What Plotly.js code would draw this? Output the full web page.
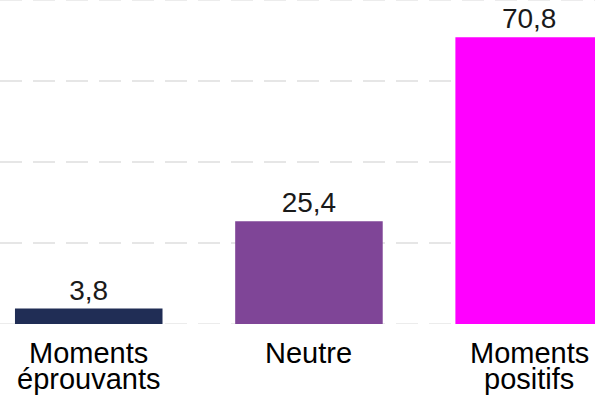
<!DOCTYPE html>
<html>
<head>
<meta charset="utf-8">
<script src="https://cdn.plot.ly/plotly-3.0.1.min.js"></script>
<style>html,body{margin:0;padding:0;background:#fff;}#chart{width:595px;height:403px;}</style>
</head>
<body>
<div id="chart"></div>
<script>
const categories = ["Moments éprouvants", "Neutre", "Moments positifs"];
const labelLine1 = ["Moments", "Neutre", "Moments"];
const labelLine2 = ["éprouvants", "", "positifs"];
const values = [3.8, 25.4, 70.8];
const valueText = ["3,8", "25,4", "70,8"];
const colors = ["#202d55", "#7f4597", "#ff00ff"];
const edgeGridValues = [0, 80];

const FONT = "Liberation Sans, Arial, sans-serif";

const annotations = [];
categories.forEach((c, i) => {
  annotations.push({x: c, y: 0, xref: "x", yref: "y", text: labelLine1[i], showarrow: false,
    yanchor: "top", yshift: -11, font: {family: FONT, size: 29, color: "#000"}});
  if (labelLine2[i]) {
    annotations.push({x: c, y: 0, xref: "x", yref: "y", text: labelLine2[i], showarrow: false,
      yanchor: "top", yshift: -37, font: {family: FONT, size: 29, color: "#000"}});
  }
});

const shapes = edgeGridValues.map(v => ({
  type: "line", xref: "paper", yref: "y", x0: 0, x1: 1, y0: v, y1: v, layer: "below",
  line: {color: "#e6e6e6", width: 1.5, dash: "22px,11px"}
}));

const trace = {
  type: "bar",
  x: categories,
  y: values,
  text: valueText,
  textposition: "outside",
  textfont: {family: FONT, size: 28, color: "#1a1a1a"},
  cliponaxis: false,
  marker: {color: colors, line: {width: 0}},
  hoverinfo: "none"
};

const layout = {
  width: 595, height: 403,
  margin: {l: 0, r: 0, t: 0, b: 79, pad: 0},
  paper_bgcolor: "#fff", plot_bgcolor: "#fff",
  bargap: 0.33,
  showlegend: false,
  xaxis: {range: [-0.403, 2.299], showticklabels: false, showgrid: false, zeroline: false, showline: false, ticks: ""},
  yaxis: {range: [0, 80], dtick: 20, tick0: 0, showticklabels: false, zeroline: false, showline: false,
    showgrid: true, gridcolor: "#e6e6e6", gridwidth: 1.5, griddash: "22px,11px", ticks: ""},
  annotations: annotations,
  shapes: shapes,
  font: {family: FONT}
};

Plotly.newPlot("chart", [trace], layout, {staticPlot: true, displayModeBar: false});
</script>
</body>
</html>
